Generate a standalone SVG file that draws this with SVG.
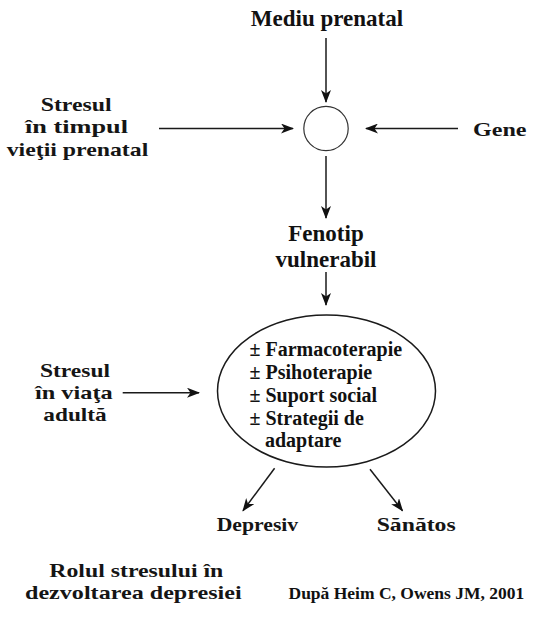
<svg xmlns="http://www.w3.org/2000/svg" width="545" height="618" viewBox="0 0 545 618">
<defs>
<style>
.t{font-family:"Liberation Serif","Times New Roman",serif;font-weight:bold;fill:#111;}
.w{font-family:"Liberation Serif","Times New Roman",serif;font-weight:bold;fill:#151515;font-size:19px;}
.c{text-anchor:middle;}
.ln{stroke:#1a1a1a;stroke-width:1.5;fill:none;}
.sh{stroke:#333;stroke-width:1.2;fill:none;}
</style>
<marker id="ah" viewBox="0 0 13 10" refX="12" refY="5" markerWidth="13" markerHeight="10" markerUnits="userSpaceOnUse" orient="auto">
<path d="M0,0 L13,5 L0,10 L3.5,5 Z" fill="#111"/>
</marker>
</defs>
<rect width="545" height="618" fill="#fff"/>
<g id="connectors">
<line class="ln" x1="326" y1="38" x2="326" y2="102" marker-end="url(#ah)"/>
<line class="ln" x1="159" y1="128.5" x2="293" y2="128.5" marker-end="url(#ah)"/>
<line class="ln" x1="458" y1="128.5" x2="366" y2="128.5" marker-end="url(#ah)"/>
<line class="ln" x1="326" y1="156" x2="326" y2="218" marker-end="url(#ah)"/>
<line class="ln" x1="326" y1="272" x2="326" y2="305" marker-end="url(#ah)"/>
<line class="ln" x1="122.7" y1="392.7" x2="199" y2="392.7" marker-end="url(#ah)"/>
<line class="ln" x1="274.6" y1="468.3" x2="243" y2="510.7" marker-end="url(#ah)"/>
<line class="ln" x1="370" y1="469.3" x2="402.5" y2="510.7" marker-end="url(#ah)"/>
</g>
<g id="mediu"><text class="t c" x="327" y="26" font-size="23">Mediu prenatal</text></g>
<g id="stres-prenatal">
<text class="w" x="40.7" y="110.7" textLength="71" lengthAdjust="spacingAndGlyphs">Stresul</text>
<text class="w" x="25" y="133.2" textLength="103" lengthAdjust="spacingAndGlyphs">în timpul</text>
<text class="w" x="6.7" y="155.7" textLength="141.6" lengthAdjust="spacingAndGlyphs">vieţii prenatal</text>
</g>
<g id="gene"><text class="w" x="473" y="135.5" textLength="53.5" lengthAdjust="spacingAndGlyphs">Gene</text></g>
<g id="interactie"><circle class="sh" cx="326" cy="128.5" r="22.2"/></g>
<g id="fenotip"><text class="t c" font-size="23"><tspan x="326" y="240.7">Fenotip</tspan><tspan x="326" y="266.7">vulnerabil</tspan></text></g>
<g id="interventii"><ellipse class="ln" cx="326.5" cy="391" rx="109" ry="76"/>
<text class="t" font-size="20"><tspan x="249.5" y="356">± Farmacoterapie</tspan><tspan x="249.5" y="379.3">± Psihoterapie</tspan><tspan x="249.5" y="402">± Suport social</tspan><tspan x="249.5" y="425">± Strategii de</tspan><tspan x="265" y="447">adaptare</tspan></text></g>
<g id="stres-adult">
<text class="w" x="40" y="376.7" textLength="70" lengthAdjust="spacingAndGlyphs">Stresul</text>
<text class="w" x="35" y="399.3" textLength="77.7" lengthAdjust="spacingAndGlyphs">în viaţa</text>
<text class="w" x="43.3" y="420.7" textLength="63.4" lengthAdjust="spacingAndGlyphs">adultă</text>
</g>
<g id="depresiv"><text class="w" x="216.7" y="531" textLength="81.5" lengthAdjust="spacingAndGlyphs">Depresiv</text></g>
<g id="sanatos"><text class="w" x="376.7" y="531" textLength="79" lengthAdjust="spacingAndGlyphs">Sănătos</text></g>
<g id="titlu">
<text class="w" x="49.3" y="577.3" textLength="174" lengthAdjust="spacingAndGlyphs">Rolul stresului în</text>
<text class="w" x="25" y="599.3" textLength="216.7" lengthAdjust="spacingAndGlyphs">dezvoltarea depresiei</text>
</g>
<g id="sursa"><text class="t" x="288.5" y="598.8" font-size="17.5">După Heim C, Owens JM, 2001</text></g>
</svg>
